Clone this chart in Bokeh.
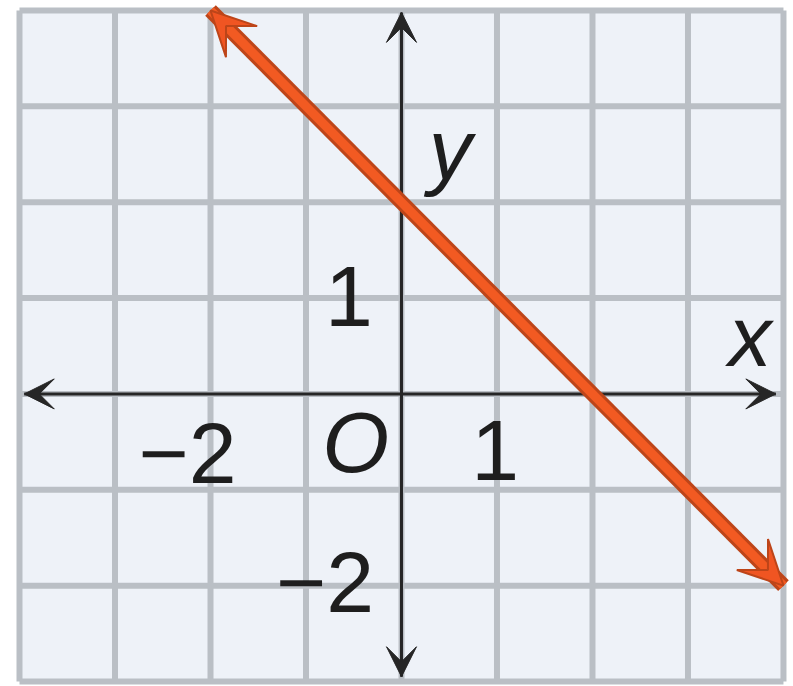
from bokeh.plotting import figure
from bokeh.models import Range1d, Arrow, VeeHead, ColumnDataSource
from bokeh.core.properties import value
from bokeh.embed import file_html
from bokeh.resources import INLINE

# Grid extent (unit squares)
grid_x = [-4, -3, -2, -1, 0, 1, 2, 3, 4]
grid_y = [-3, -2, -1, 0, 1, 2, 3, 4]

# Graphed line y = -x + 2, drawn between its two arrow tips
line_x = [-2, 4]
line_y = [4, -2]

# Axis arrow extents
x_axis_ends = [-3.95, 3.92]
y_axis_ends = [-2.95, 3.98]

# Tick labels and axis names
label_text = ["\u22122", "O", "1", "1", "\u22122", "x", "y"]
label_x = [-2.24, -0.48, 0.98, -0.55, -0.80, 3.65, 0.51]
label_y = [-0.62, -0.50, -0.59, 1.02, -1.97, 0.60, 2.55]
label_style = ["normal", "italic", "normal", "normal", "normal", "italic", "italic"]

p = figure(width=793, height=686, output_backend="svg", toolbar_location=None,
           x_range=Range1d(-4.199, 4.105), y_range=Range1d(-3.052, 4.104),
           min_border=0, outline_line_color=None)
p.axis.visible = False
p.grid.visible = False
p.background_fill_color = "white"
p.border_fill_color = "white"

# Light cell background
p.quad(left=[grid_x[0]], right=[grid_x[-1]], bottom=[grid_y[0]], top=[grid_y[-1]],
       fill_color="#eef2f8", line_color=None)

# Grid lines
gy0, gy1 = grid_y[0], grid_y[-1]
gx0, gx1 = grid_x[0], grid_x[-1]
p.segment(x0=grid_x, x1=grid_x, y0=[gy0] * len(grid_x), y1=[gy1] * len(grid_x),
          line_color="#babfc5", line_width=6)
p.segment(x0=[gx0] * len(grid_y), x1=[gx1] * len(grid_y), y0=grid_y, y1=grid_y,
          line_color="#babfc5", line_width=6)

# Coordinate axes with arrowheads at both ends
axis_color = "#262626"
p.segment(x0=[x_axis_ends[0]], x1=[x_axis_ends[1]], y0=[0], y1=[0],
          line_color=axis_color, line_width=3)
p.segment(x0=[0], x1=[0], y0=[y_axis_ends[0]], y1=[y_axis_ends[1]],
          line_color=axis_color, line_width=3)
for xs, xe, ys, ye in [(0, x_axis_ends[0], 0, 0), (0, x_axis_ends[1], 0, 0),
                       (0, 0, 0, y_axis_ends[0]), (0, 0, 0, y_axis_ends[1])]:
    p.add_layout(Arrow(x_start=xs, y_start=ys, x_end=xe, y_end=ye, line_alpha=0,
                       end=VeeHead(size=30, fill_color=axis_color,
                                   line_color=axis_color, line_width=1)))

# Graphed line: dark edge under a bright orange core
p.line(line_x, line_y, line_color="#bd4519", line_width=15)
p.line(line_x, line_y, line_color="#f25a22", line_width=9)
mid_x = sum(line_x) / 2
mid_y = sum(line_y) / 2
for xe, ye in zip(line_x, line_y):
    p.add_layout(Arrow(x_start=mid_x, y_start=mid_y, x_end=xe, y_end=ye, line_alpha=0,
                       end=VeeHead(size=44, fill_color="#f05522",
                                   line_color="#bd4519", line_width=2)))

# Labels
src = ColumnDataSource(dict(x=label_x, y=label_y, text=label_text, style=label_style))
p.text(x="x", y="y", text="text", source=src, text_font=value("Liberation Sans"),
       text_font_size="86px", text_font_style="style", text_color="#1e1e1e",
       text_align="center", text_baseline="middle")

open("out.html", "w").write(file_html(p, INLINE))
